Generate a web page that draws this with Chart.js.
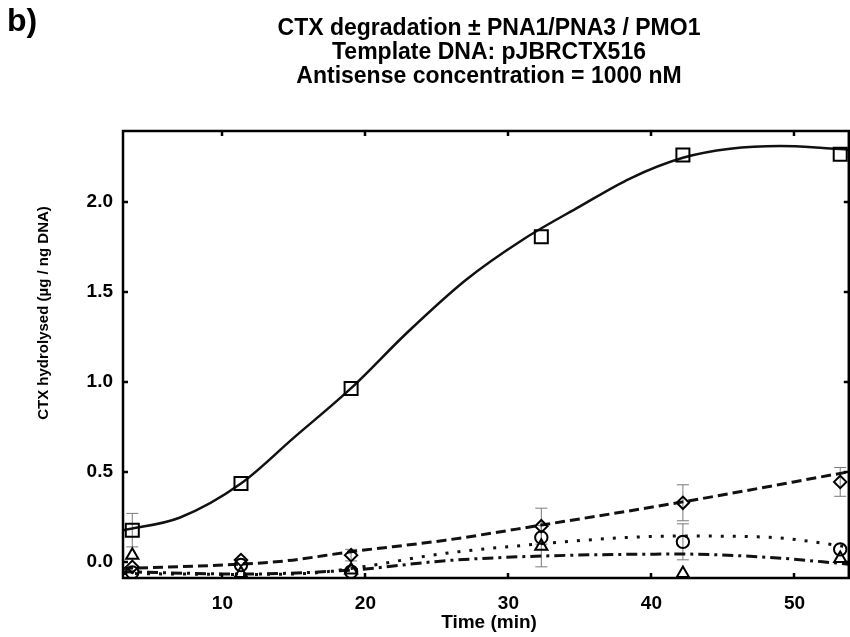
<!DOCTYPE html>
<html>
<head>
<meta charset="utf-8">
<script src="https://cdn.jsdelivr.net/npm/chart.js@4.4.1/dist/chart.umd.min.js"></script>
<style>
  html, body { margin: 0; padding: 0; background: #fff; overflow: hidden; }
</style>
</head>
<body>
<canvas id="myChart" width="860" height="637"></canvas>
<script>
// sampling times (min)
const times = [3.7, 11.3, 19.0, 32.3, 42.2, 53.2];

// measured CTX hydrolysed (µg / ng DNA) with error
const control = [0.176, 0.435, 0.963, 1.806, 2.26, 2.265];
const controlErr = [0.093, 0, 0, 0, 0, 0];
const pna1 = [-0.028, 0.01, 0.037, 0.198, 0.328, 0.444];
const pna1Err = [0, 0, 0.032, 0.10, 0.10, 0.08];
const pna3 = [-0.059, -0.018, -0.055, 0.135, 0.111, 0.069];
const pna3Err = [0, 0, 0, 0, 0.10, 0];
const pmo1 = [0.037, -0.065, -0.046, 0.087, -0.065, 0.019];
const pmo1Err = [0, 0, 0, 0.115, 0, 0];

// fitted curves
const controlFitT = [3.05, 7, 11.3, 15, 19, 23, 27, 31, 35, 38.5, 42.2, 45.5, 49, 52, 53.8];
const controlFit = [0.175, 0.245, 0.435, 0.69, 0.965, 1.28, 1.565, 1.79, 1.975, 2.13, 2.245, 2.295, 2.31, 2.30, 2.29];
const pna1FitT = [3.05, 11.3, 14.5, 19, 25.6, 32.3, 42.2, 53.8];
const pna1Fit = [-0.037, -0.013, 0.006, 0.056, 0.12, 0.204, 0.333, 0.5];
const pna3FitT = [3.05, 7.1, 11.3, 15.8, 19, 25.6, 32.3, 38.5, 42.2, 48.3, 53.8];
const pna3Fit = [-0.065, -0.068, -0.07, -0.065, -0.037, 0.047, 0.10, 0.136, 0.143, 0.136, 0.083];
const pmo1FitT = [3.05, 11.3, 19, 25.6, 32.3, 42.2, 48.3, 53.8];
const pmo1Fit = [-0.055, -0.068, -0.046, 0.006, 0.032, 0.043, 0.024, -0.013];

const xTicks = [10, 20, 30, 40, 50];
const yTicks = [0, 0.5, 1.0, 1.5, 2.0];

const FONT = '"Liberation Sans", Arial, sans-serif';

const pts = (xs, ys) => xs.map((x, i) => ({ x: x, y: ys[i] }));

function markers(ys, errs, style, radius) {
    return {
        data: pts(times, ys),
        errors: errs,
        showLine: false,
        pointStyle: style,
        pointRadius: radius,
        pointBorderWidth: 2,
        pointBorderColor: '#000',
        pointBackgroundColor: 'rgba(0,0,0,0)'
    };
}

function curve(xs, ys, dash, width) {
    return {
        data: pts(xs, ys),
        showLine: true,
        pointRadius: 0,
        borderColor: '#111',
        borderWidth: width,
        borderDash: dash,
        cubicInterpolationMode: 'monotone'
    };
}

// gray error bars behind the markers
const errorBars = {
    id: 'errorBars',
    beforeDatasetsDraw(chart) {
        const c = chart.ctx;
        const xs = chart.scales.x, ys = chart.scales.y;
        c.save();
        c.strokeStyle = '#7a7a7a';
        c.lineWidth = 1;
        chart.data.datasets.forEach(ds => {
            if (!ds.errors) return;
            ds.data.forEach((p, i) => {
                const e = ds.errors[i];
                if (!e) return;
                const px = xs.getPixelForValue(p.x);
                const top = ys.getPixelForValue(p.y + e);
                const bot = ys.getPixelForValue(p.y - e);
                c.beginPath();
                c.moveTo(px, top); c.lineTo(px, bot);
                c.moveTo(px - 6, top); c.lineTo(px + 6, top);
                c.moveTo(px - 6, bot); c.lineTo(px + 6, bot);
                c.stroke();
            });
        });
        c.restore();
    }
};

// boxed frame with inward ticks, titles
const frame = {
    id: 'frame',
    afterDraw(chart) {
        const c = chart.ctx;
        const a = chart.chartArea;
        const xs = chart.scales.x, ys = chart.scales.y;
        c.save();
        c.strokeStyle = '#000';
        c.lineWidth = 2.5;
        c.strokeRect(a.left, a.top, a.right - a.left, a.bottom - a.top);
        c.beginPath();
        xTicks.forEach(v => {
            const px = Math.round(xs.getPixelForValue(v));
            c.moveTo(px, a.bottom); c.lineTo(px, a.bottom - 5);
            c.moveTo(px, a.top); c.lineTo(px, a.top + 5);
        });
        yTicks.forEach(v => {
            const py = Math.round(ys.getPixelForValue(v));
            c.moveTo(a.left, py); c.lineTo(a.left + 5, py);
            c.moveTo(a.right, py); c.lineTo(a.right - 5, py);
        });
        c.stroke();

        c.fillStyle = '#000';
        c.font = 'bold 32px ' + FONT;
        c.textAlign = 'left';
        c.textBaseline = 'alphabetic';
        c.fillText('b)', 7, 31);

        const cx = 489;
        c.textAlign = 'center';
        c.font = 'bold 23px ' + FONT;
        c.fillText('CTX degradation \u00b1 PNA1/PNA3 / PMO1', cx, 35);
        c.fillText('Template DNA: pJBRCTX516', cx, 59);
        c.fillText('Antisense concentration = 1000 nM', cx, 83);

        c.font = 'bold 19px ' + FONT;
        c.textBaseline = 'middle';
        c.fillText('Time (min)', 489, 623);

        c.translate(44, 313);
        c.rotate(-Math.PI / 2);
        c.font = 'bold 15px ' + FONT;
        c.fillText('CTX hydrolysed (\u00b5g / ng DNA)', 0, 0);
        c.restore();
    }
};

const tickFont = { family: FONT, size: 19, weight: 'bold' };

new Chart(document.getElementById('myChart').getContext('2d'), {
    type: 'scatter',
    data: {
        datasets: [
            markers(control, controlErr, 'rect', 9.2),
            markers(pna1, pna1Err, 'rectRot', 6.2),
            markers(pna3, pna3Err, 'circle', 6.2),
            markers(pmo1, pmo1Err, 'triangle', 7),
            curve(controlFitT, controlFit, [], 2.5),
            curve(pna1FitT, pna1Fit, [10, 5], 3),
            curve(pna3FitT, pna3Fit, [3, 9], 3),
            curve(pmo1FitT, pmo1Fit, [11, 5, 3, 5], 3)
        ]
    },
    options: {
        responsive: false,
        animation: false,
        layout: { padding: { top: 131, right: 8, left: 0, bottom: 0 } },
        plugins: {
            legend: { display: false },
            tooltip: { enabled: false },
            title: { display: false }
        },
        scales: {
            x: {
                type: 'linear',
                min: 3.05,
                max: 53.8,
                grid: { display: false, drawTicks: false },
                border: { display: false },
                afterBuildTicks: s => { s.ticks = xTicks.map(v => ({ value: v })); },
                afterFit: s => { s.height = 59; },
                ticks: { padding: 14, color: '#000', font: tickFont, callback: v => v }
            },
            y: {
                min: -0.09,
                max: 2.394,
                grid: { display: false, drawTicks: false },
                border: { display: false },
                afterBuildTicks: s => { s.ticks = yTicks.map(v => ({ value: v })); },
                afterFit: s => { s.width = 123; },
                ticks: { padding: 10, color: '#000', font: tickFont, callback: v => v.toFixed(1) }
            }
        }
    },
    plugins: [errorBars, frame]
});
</script>
</body>
</html>
